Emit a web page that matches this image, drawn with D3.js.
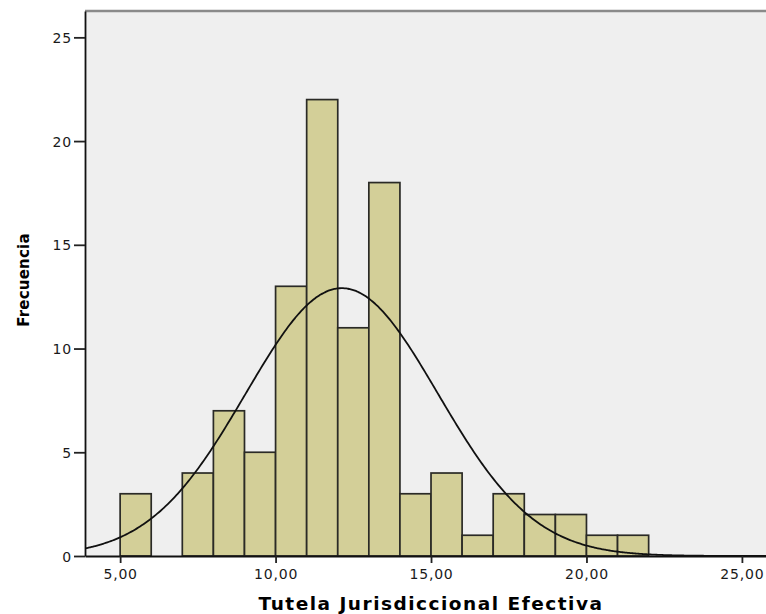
<!DOCTYPE html>
<html>
<head>
<meta charset="utf-8">
<script src="https://cdn.jsdelivr.net/npm/d3@7"></script>
<style>
  html, body { margin: 0; padding: 0; background: #ffffff; }
  svg { display: block; }
</style>
</head>
<body>
<svg id="chart" width="766" height="614"></svg>
<script>
// Histogram of "Tutela Jurisdiccional Efectiva" (bins of width 1)
const binStarts = [5, 6, 7, 8, 9, 10, 11, 12, 13, 14, 15, 16, 17, 18, 19, 20, 21];
const frequencies = [3, 0, 4, 7, 5, 13, 22, 11, 18, 3, 4, 1, 3, 2, 2, 1, 1];
const binWidth = 1;
const xTicks = [5, 10, 15, 20, 25];
const yTicks = [0, 5, 10, 15, 20, 25];
// Fitted normal curve parameters
const curveMean = 12.13;
const curveSd = 3.09;
const totalN = 100;

const svg = d3.select("#chart");
const plot = { left: 85, top: 11, right: 773, bottom: 556 };

const x = d3.scaleLinear().domain([3.87, 26]).range([plot.left, plot.right]);
const y = d3.scaleLinear().domain([0, 26.27]).range([plot.bottom, plot.top]);

const esLocale = d3.formatLocale({ decimal: ",", thousands: ".", grouping: [3], currency: ["", " €"] });
const fmt2 = esLocale.format(".2f");

svg.append("defs").append("clipPath").attr("id", "plotClip")
  .append("rect")
  .attr("x", plot.left).attr("y", plot.top)
  .attr("width", plot.right - plot.left).attr("height", plot.bottom - plot.top);

// Plot background
svg.append("rect")
  .attr("x", plot.left).attr("y", plot.top)
  .attr("width", plot.right - plot.left).attr("height", plot.bottom - plot.top)
  .attr("fill", "#efefef");

// Top frame line
svg.append("line")
  .attr("x1", plot.left).attr("x2", plot.right)
  .attr("y1", plot.top).attr("y2", plot.top)
  .attr("stroke", "#8a8a8a").attr("stroke-width", 2.5);

const g = svg.append("g").attr("clip-path", "url(#plotClip)");

// Bars
const bins = binStarts.map((s, i) => ({ start: s, count: frequencies[i] }));
g.selectAll("rect.bar")
  .data(bins.filter(d => d.count > 0))
  .join("rect")
  .attr("class", "bar")
  .attr("x", d => x(d.start))
  .attr("y", d => y(d.count))
  .attr("width", d => x(d.start + binWidth) - x(d.start))
  .attr("height", d => y(0) - y(d.count))
  .attr("fill", "#d3cf98")
  .attr("stroke", "#2a2a26")
  .attr("stroke-width", 1.7);

// Normal curve
const [x0, x1] = x.domain();
const curvePts = d3.range(0, 401).map(i => {
  const v = x0 + (x1 - x0) * i / 400;
  const z = (v - curveMean) / curveSd;
  const dens = totalN * binWidth / (curveSd * Math.sqrt(2 * Math.PI)) * Math.exp(-0.5 * z * z);
  return [v, dens];
});
g.append("path")
  .datum(curvePts)
  .attr("fill", "none")
  .attr("stroke", "#111")
  .attr("stroke-width", 1.8)
  .attr("d", d3.line().x(d => x(d[0])).y(d => y(d[1])).curve(d3.curveBasis));

// Axes
const xAxis = svg.append("g")
  .attr("transform", `translate(0,${plot.bottom})`)
  .call(d3.axisBottom(x).tickValues(xTicks).tickFormat(fmt2).tickSize(7).tickPadding(6).tickSizeOuter(0));
const yAxis = svg.append("g")
  .attr("transform", `translate(${plot.left},0)`)
  .call(d3.axisLeft(y).tickValues(yTicks).tickSize(11).tickPadding(2).tickSizeOuter(0));

[xAxis, yAxis].forEach(ax => {
  ax.select(".domain").attr("stroke", "#111").attr("stroke-width", 1.8);
  ax.selectAll(".tick line").attr("stroke", "#222").attr("stroke-width", 1.8);
  ax.selectAll(".tick text")
    .attr("fill", "#1a1a1a")
    .style("font-family", "'DejaVu Sans', sans-serif")
    .style("font-size", "14px")
    .style("letter-spacing", "0.8px");
});
yAxis.selectAll(".tick text").attr("dy", "0.36em");

// Axis titles
svg.append("text")
  .attr("x", 431).attr("y", 610)
  .attr("text-anchor", "middle")
  .style("font-family", "'DejaVu Sans', sans-serif")
  .style("font-weight", "bold")
  .style("font-size", "18.5px")
  .style("letter-spacing", "1.5px")
  .attr("fill", "#000")
  .text("Tutela Jurisdiccional Efectiva");

svg.append("text")
  .attr("transform", "translate(29,280) rotate(-90)")
  .attr("text-anchor", "middle")
  .style("font-family", "'DejaVu Sans', sans-serif")
  .style("font-weight", "bold")
  .style("font-size", "15px")
  .style("letter-spacing", "0.2px")
  .attr("fill", "#000")
  .text("Frecuencia");
</script>
</body>
</html>
